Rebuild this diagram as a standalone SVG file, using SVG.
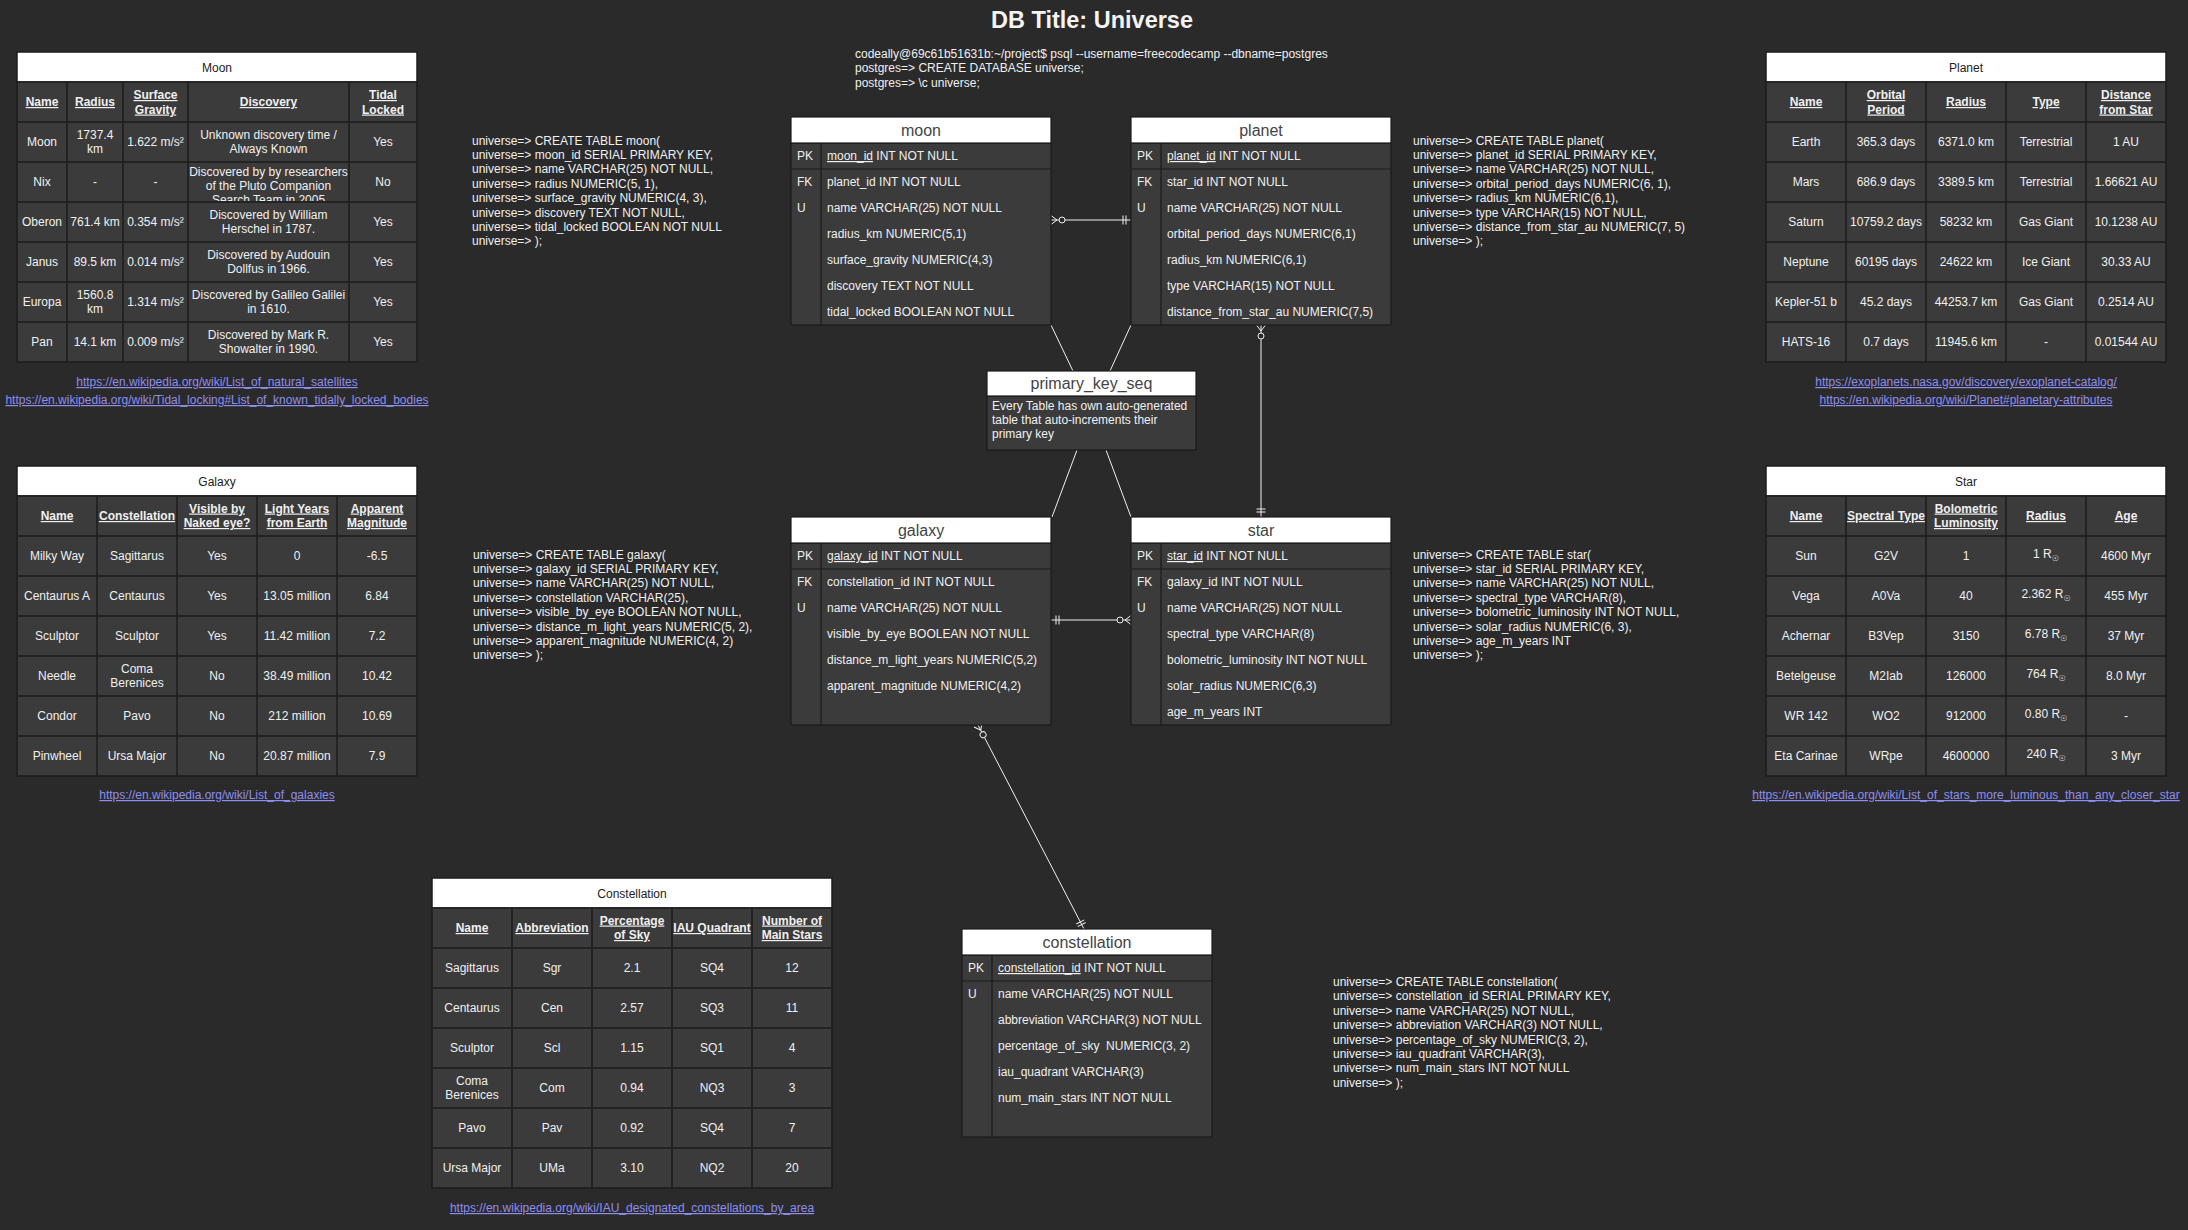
<svg xmlns="http://www.w3.org/2000/svg" width="2188" height="1230" viewBox="0 0 2188 1230">
  <defs>
    <style>
      text { font-family: "Liberation Sans", Arial, Helvetica, sans-serif; font-size: 12px; }
      .bg { fill: #2a2a2a; }
      .cellbg { fill: #3b3b3b; stroke: #1c1c1c; stroke-width: 1.5; }
      .ttlbg { fill: #ffffff; stroke: #1c1c1c; stroke-width: 1.5; }
      .grid { fill: none; stroke: #1c1c1c; stroke-width: 1.5; }
      .c { fill: #f0f0f0; text-anchor: middle; }
      .h { fill: #f0f0f0; text-anchor: middle; font-weight: bold; text-decoration: underline; }
      .tn { fill: #222222; text-anchor: middle; }
      .lnk { fill: #8e8ef0; text-anchor: middle; text-decoration: underline; }
      .sql { fill: #f0f0f0; }
      .title { fill: #f4f4f4; font-size: 23.5px; font-weight: bold; text-anchor: middle; }
      .ebody { fill: #3b3b3b; stroke: #1c1c1c; stroke-width: 1.2; }
      .ehead { fill: #ffffff; stroke: #1c1c1c; stroke-width: 1.2; }
      .eline { fill: none; stroke: #1c1c1c; stroke-width: 1.2; }
      .ename { fill: #444444; font-size: 16px; text-anchor: middle; }
      .f { fill: #f0f0f0; }
      .u { text-decoration: underline; }
      .edge { fill: none; stroke: #f0f0f0; stroke-width: 1; }
      .sun { font-family: "DejaVu Sans", sans-serif; font-size: 8px; }
    </style>
    <!-- mandatory one: two bars near the entity edge -->
    <marker id="one" viewBox="-12 -7 14 14" refX="0" refY="0" markerWidth="14" markerHeight="14" markerUnits="userSpaceOnUse" orient="auto-start-reverse">
      <path d="M-8,-4.5V4.5M-5,-4.5V4.5" fill="none" stroke="#f0f0f0" stroke-width="1"/>
    </marker>
    <!-- zero or many: crow's foot plus open circle -->
    <marker id="zm" viewBox="-16 -7 18 14" refX="0" refY="0" markerWidth="18" markerHeight="14" markerUnits="userSpaceOnUse" orient="auto-start-reverse">
      <path d="M0,-4.5L-6,0L0,4.5" fill="none" stroke="#f0f0f0" stroke-width="1"/>
      <circle cx="-11" cy="0" r="3" fill="#2a2a2a" stroke="#f0f0f0" stroke-width="1"/>
    </marker>
    <clipPath id="nixclip"><rect x="188" y="162" width="161" height="39"/></clipPath>
  </defs>

  <rect class="bg" x="0" y="0" width="2188" height="1230"/>

  <text class="title" x="1092" y="27.5">DB Title: Universe</text>

  <g id="psql-session" class="sql">
    <text x="855" y="58">codeally@69c61b51631b:~/project$ psql --username=freecodecamp --dbname=postgres</text>
    <text x="855" y="72.4">postgres=&gt; CREATE DATABASE universe;</text>
    <text x="855" y="86.8">postgres=&gt; \c universe;</text>
  </g>

  <!-- ===== connectors ===== -->
  <g id="connectors">
    <path class="edge" d="M1051,220H1131" marker-start="url(#zm)" marker-end="url(#one)"/>
    <path class="edge" d="M1051,620H1131" marker-start="url(#one)" marker-end="url(#zm)"/>
    <path class="edge" d="M1261,325V517" marker-start="url(#zm)" marker-end="url(#one)"/>
    <path class="edge" d="M978,725L1084,929" marker-start="url(#zm)" marker-end="url(#one)"/>
    <path class="edge" d="M1051,325L1073,371"/>
    <path class="edge" d="M1131,325L1110,371"/>
    <path class="edge" d="M1077,450L1052,517"/>
    <path class="edge" d="M1106,450L1131,517"/>
  </g>

  <!-- ===== entity: moon ===== -->
  <g id="entity-moon">
    <rect class="ebody" x="791" y="143" width="260" height="182"/>
    <rect class="ehead" x="791" y="117" width="260" height="26"/>
    <path class="eline" d="M791,169H1051M821,143V325"/>
    <text class="ename" x="921" y="135.5">moon</text>
    <g class="f">
      <text x="797" y="160">PK</text>
      <text x="827" y="160"><tspan class="u">moon_id</tspan> INT NOT NULL</text>
      <text x="797" y="186">FK</text>
      <text x="827" y="186">planet_id INT NOT NULL</text>
      <text x="797" y="212">U</text>
      <text x="827" y="212">name VARCHAR(25) NOT NULL</text>
      <text x="827" y="238">radius_km NUMERIC(5,1)</text>
      <text x="827" y="264">surface_gravity NUMERIC(4,3)</text>
      <text x="827" y="290">discovery TEXT NOT NULL</text>
      <text x="827" y="316">tidal_locked BOOLEAN NOT NULL</text>
    </g>
  </g>

  <!-- ===== entity: planet ===== -->
  <g id="entity-planet">
    <rect class="ebody" x="1131" y="143" width="260" height="182"/>
    <rect class="ehead" x="1131" y="117" width="260" height="26"/>
    <path class="eline" d="M1131,169H1391M1161,143V325"/>
    <text class="ename" x="1261" y="135.5">planet</text>
    <g class="f">
      <text x="1137" y="160">PK</text>
      <text x="1167" y="160"><tspan class="u">planet_id</tspan> INT NOT NULL</text>
      <text x="1137" y="186">FK</text>
      <text x="1167" y="186">star_id INT NOT NULL</text>
      <text x="1137" y="212">U</text>
      <text x="1167" y="212">name VARCHAR(25) NOT NULL</text>
      <text x="1167" y="238">orbital_period_days NUMERIC(6,1)</text>
      <text x="1167" y="264">radius_km NUMERIC(6,1)</text>
      <text x="1167" y="290">type VARCHAR(15) NOT NULL</text>
      <text x="1167" y="316">distance_from_star_au NUMERIC(7,5)</text>
    </g>
  </g>

  <!-- ===== entity: galaxy ===== -->
  <g id="entity-galaxy">
    <rect class="ebody" x="791" y="543" width="260" height="182"/>
    <rect class="ehead" x="791" y="517" width="260" height="26"/>
    <path class="eline" d="M791,569H1051M821,543V725"/>
    <text class="ename" x="921" y="535.5">galaxy</text>
    <g class="f">
      <text x="797" y="560">PK</text>
      <text x="827" y="560"><tspan class="u">galaxy_id</tspan> INT NOT NULL</text>
      <text x="797" y="586">FK</text>
      <text x="827" y="586">constellation_id INT NOT NULL</text>
      <text x="797" y="612">U</text>
      <text x="827" y="612">name VARCHAR(25) NOT NULL</text>
      <text x="827" y="638">visible_by_eye BOOLEAN NOT NULL</text>
      <text x="827" y="664">distance_m_light_years NUMERIC(5,2)</text>
      <text x="827" y="690">apparent_magnitude NUMERIC(4,2)</text>
    </g>
  </g>

  <!-- ===== entity: star ===== -->
  <g id="entity-star">
    <rect class="ebody" x="1131" y="543" width="260" height="182"/>
    <rect class="ehead" x="1131" y="517" width="260" height="26"/>
    <path class="eline" d="M1131,569H1391M1161,543V725"/>
    <text class="ename" x="1261" y="535.5">star</text>
    <g class="f">
      <text x="1137" y="560">PK</text>
      <text x="1167" y="560"><tspan class="u">star_id</tspan> INT NOT NULL</text>
      <text x="1137" y="586">FK</text>
      <text x="1167" y="586">galaxy_id INT NOT NULL</text>
      <text x="1137" y="612">U</text>
      <text x="1167" y="612">name VARCHAR(25) NOT NULL</text>
      <text x="1167" y="638">spectral_type VARCHAR(8)</text>
      <text x="1167" y="664">bolometric_luminosity INT NOT NULL</text>
      <text x="1167" y="690">solar_radius NUMERIC(6,3)</text>
      <text x="1167" y="716">age_m_years INT</text>
    </g>
  </g>

  <!-- ===== entity: constellation ===== -->
  <g id="entity-constellation">
    <rect class="ebody" x="962" y="955" width="250" height="182"/>
    <rect class="ehead" x="962" y="929" width="250" height="26"/>
    <path class="eline" d="M962,981H1212M992,955V1137"/>
    <text class="ename" x="1087" y="947.5">constellation</text>
    <g class="f">
      <text x="968" y="972">PK</text>
      <text x="998" y="972"><tspan class="u">constellation_id</tspan> INT NOT NULL</text>
      <text x="968" y="998">U</text>
      <text x="998" y="998">name VARCHAR(25) NOT NULL</text>
      <text x="998" y="1024">abbreviation VARCHAR(3) NOT NULL</text>
      <text x="998" y="1050">percentage_of_sky&#160; NUMERIC(3, 2)</text>
      <text x="998" y="1076">iau_quadrant VARCHAR(3)</text>
      <text x="998" y="1102">num_main_stars INT NOT NULL</text>
    </g>
  </g>

  <!-- ===== note: primary_key_seq ===== -->
  <g id="entity-primary-key-seq">
    <rect class="ebody" x="987" y="396" width="209" height="54"/>
    <rect class="ehead" x="987" y="371" width="209" height="25"/>
    <text class="ename" x="1091.5" y="389">primary_key_seq</text>
    <g class="f">
      <text x="992" y="410">Every Table has own auto-generated</text>
      <text x="992" y="424">table that auto-increments their</text>
      <text x="992" y="438">primary key</text>
    </g>
  </g>

  <!-- ===== SQL listings ===== -->
  <g id="sql-moon" class="sql">
    <text x="472" y="144.5">universe=&gt; CREATE TABLE moon(</text>
    <text x="472" y="158.9">universe=&gt; moon_id SERIAL PRIMARY KEY,</text>
    <text x="472" y="173.3">universe=&gt; name VARCHAR(25) NOT NULL,</text>
    <text x="472" y="187.7">universe=&gt; radius NUMERIC(5, 1),</text>
    <text x="472" y="202.1">universe=&gt; surface_gravity NUMERIC(4, 3),</text>
    <text x="472" y="216.5">universe=&gt; discovery TEXT NOT NULL,</text>
    <text x="472" y="230.9">universe=&gt; tidal_locked BOOLEAN NOT NULL</text>
    <text x="472" y="245.3">universe=&gt; );</text>
  </g>
  <g id="sql-planet" class="sql">
    <text x="1413" y="144.5">universe=&gt; CREATE TABLE planet(</text>
    <text x="1413" y="158.9">universe=&gt; planet_id SERIAL PRIMARY KEY,</text>
    <text x="1413" y="173.3">universe=&gt; name VARCHAR(25) NOT NULL,</text>
    <text x="1413" y="187.7">universe=&gt; orbital_period_days NUMERIC(6, 1),</text>
    <text x="1413" y="202.1">universe=&gt; radius_km NUMERIC(6,1),</text>
    <text x="1413" y="216.5">universe=&gt; type VARCHAR(15) NOT NULL,</text>
    <text x="1413" y="230.9">universe=&gt; distance_from_star_au NUMERIC(7, 5)</text>
    <text x="1413" y="245.3">universe=&gt; );</text>
  </g>
  <g id="sql-galaxy" class="sql">
    <text x="473" y="558.5">universe=&gt; CREATE TABLE galaxy(</text>
    <text x="473" y="572.9">universe=&gt; galaxy_id SERIAL PRIMARY KEY,</text>
    <text x="473" y="587.3">universe=&gt; name VARCHAR(25) NOT NULL,</text>
    <text x="473" y="601.7">universe=&gt; constellation VARCHAR(25),</text>
    <text x="473" y="616.1">universe=&gt; visible_by_eye BOOLEAN NOT NULL,</text>
    <text x="473" y="630.5">universe=&gt; distance_m_light_years NUMERIC(5, 2),</text>
    <text x="473" y="644.9">universe=&gt; apparent_magnitude NUMERIC(4, 2)</text>
    <text x="473" y="659.3">universe=&gt; );</text>
  </g>
  <g id="sql-star" class="sql">
    <text x="1413" y="558.5">universe=&gt; CREATE TABLE star(</text>
    <text x="1413" y="572.9">universe=&gt; star_id SERIAL PRIMARY KEY,</text>
    <text x="1413" y="587.3">universe=&gt; name VARCHAR(25) NOT NULL,</text>
    <text x="1413" y="601.7">universe=&gt; spectral_type VARCHAR(8),</text>
    <text x="1413" y="616.1">universe=&gt; bolometric_luminosity INT NOT NULL,</text>
    <text x="1413" y="630.5">universe=&gt; solar_radius NUMERIC(6, 3),</text>
    <text x="1413" y="644.9">universe=&gt; age_m_years INT</text>
    <text x="1413" y="659.3">universe=&gt; );</text>
  </g>
  <g id="sql-constellation" class="sql">
    <text x="1333" y="986">universe=&gt; CREATE TABLE constellation(</text>
    <text x="1333" y="1000.4">universe=&gt; constellation_id SERIAL PRIMARY KEY,</text>
    <text x="1333" y="1014.8">universe=&gt; name VARCHAR(25) NOT NULL,</text>
    <text x="1333" y="1029.2">universe=&gt; abbreviation VARCHAR(3) NOT NULL,</text>
    <text x="1333" y="1043.6">universe=&gt; percentage_of_sky NUMERIC(3, 2),</text>
    <text x="1333" y="1058">universe=&gt; iau_quadrant VARCHAR(3),</text>
    <text x="1333" y="1072.4">universe=&gt; num_main_stars INT NOT NULL</text>
    <text x="1333" y="1086.8">universe=&gt; );</text>
  </g>

  <!-- ===== data table: Moon ===== -->
  <g id="table-moon">
    <rect class="ttlbg" x="17" y="52" width="400" height="30"/>
    <rect class="cellbg" x="17" y="82" width="400" height="280"/>
    <path class="grid" d="M17,122H417M17,162H417M17,202H417M17,242H417M17,282H417M17,322H417M67,82V362M123,82V362M188,82V362M349,82V362"/>
    <text class="tn" x="217" y="71.5">Moon</text>
    <text class="h" x="42" y="106">Name</text>
    <text class="h" x="95" y="106">Radius</text>
    <text class="h" x="155.5" y="99">Surface</text>
    <text class="h" x="155.5" y="113.5">Gravity</text>
    <text class="h" x="268.5" y="106">Discovery</text>
    <text class="h" x="383" y="99">Tidal</text>
    <text class="h" x="383" y="113.5">Locked</text>

    <text class="c" x="42" y="146">Moon</text>
    <text class="c" x="95" y="139">1737.4</text>
    <text class="c" x="95" y="153">km</text>
    <text class="c" x="155.5" y="146">1.622 m/s²</text>
    <text class="c" x="268.5" y="139">Unknown discovery time /</text>
    <text class="c" x="268.5" y="153">Always Known</text>
    <text class="c" x="383" y="146">Yes</text>

    <text class="c" x="42" y="186">Nix</text>
    <text class="c" x="95" y="186">-</text>
    <text class="c" x="155.5" y="186">-</text>
    <g clip-path="url(#nixclip)">
      <text class="c" x="268.5" y="176">Discovered by by researchers</text>
      <text class="c" x="268.5" y="190">of the Pluto Companion</text>
      <text class="c" x="268.5" y="204">Search Team in 2005</text>
    </g>
    <text class="c" x="383" y="186">No</text>

    <text class="c" x="42" y="226">Oberon</text>
    <text class="c" x="95" y="226">761.4 km</text>
    <text class="c" x="155.5" y="226">0.354 m/s²</text>
    <text class="c" x="268.5" y="219">Discovered by William</text>
    <text class="c" x="268.5" y="233">Herschel in 1787.</text>
    <text class="c" x="383" y="226">Yes</text>

    <text class="c" x="42" y="266">Janus</text>
    <text class="c" x="95" y="266">89.5 km</text>
    <text class="c" x="155.5" y="266">0.014 m/s²</text>
    <text class="c" x="268.5" y="259">Discovered by Audouin</text>
    <text class="c" x="268.5" y="273">Dollfus in 1966.</text>
    <text class="c" x="383" y="266">Yes</text>

    <text class="c" x="42" y="306">Europa</text>
    <text class="c" x="95" y="299">1560.8</text>
    <text class="c" x="95" y="313">km</text>
    <text class="c" x="155.5" y="306">1.314 m/s²</text>
    <text class="c" x="268.5" y="299">Discovered by Galileo Galilei</text>
    <text class="c" x="268.5" y="313">in 1610.</text>
    <text class="c" x="383" y="306">Yes</text>

    <text class="c" x="42" y="346">Pan</text>
    <text class="c" x="95" y="346">14.1 km</text>
    <text class="c" x="155.5" y="346">0.009 m/s²</text>
    <text class="c" x="268.5" y="339">Discovered by Mark R.</text>
    <text class="c" x="268.5" y="353">Showalter in 1990.</text>
    <text class="c" x="383" y="346">Yes</text>

    <text class="lnk" x="217" y="386">https://en.wikipedia.org/wiki/List_of_natural_satellites</text>
    <text class="lnk" x="217" y="404">https://en.wikipedia.org/wiki/Tidal_locking#List_of_known_tidally_locked_bodies</text>
  </g>

  <!-- ===== data table: Planet ===== -->
  <g id="table-planet">
    <rect class="ttlbg" x="1766" y="52" width="400" height="30"/>
    <rect class="cellbg" x="1766" y="82" width="400" height="280"/>
    <path class="grid" d="M1766,122H2166M1766,162H2166M1766,202H2166M1766,242H2166M1766,282H2166M1766,322H2166M1846,82V362M1926,82V362M2006,82V362M2086,82V362"/>
    <text class="tn" x="1966" y="71.5">Planet</text>
    <text class="h" x="1806" y="106">Name</text>
    <text class="h" x="1886" y="99">Orbital</text>
    <text class="h" x="1886" y="113.5">Period</text>
    <text class="h" x="1966" y="106">Radius</text>
    <text class="h" x="2046" y="106">Type</text>
    <text class="h" x="2126" y="99">Distance</text>
    <text class="h" x="2126" y="113.5">from Star</text>

    <text class="c" x="1806" y="146">Earth</text>
    <text class="c" x="1886" y="146">365.3 days</text>
    <text class="c" x="1966" y="146">6371.0 km</text>
    <text class="c" x="2046" y="146">Terrestrial</text>
    <text class="c" x="2126" y="146">1 AU</text>

    <text class="c" x="1806" y="186">Mars</text>
    <text class="c" x="1886" y="186">686.9 days</text>
    <text class="c" x="1966" y="186">3389.5 km</text>
    <text class="c" x="2046" y="186">Terrestrial</text>
    <text class="c" x="2126" y="186">1.66621 AU</text>

    <text class="c" x="1806" y="226">Saturn</text>
    <text class="c" x="1886" y="226">10759.2 days</text>
    <text class="c" x="1966" y="226">58232 km</text>
    <text class="c" x="2046" y="226">Gas Giant</text>
    <text class="c" x="2126" y="226">10.1238 AU</text>

    <text class="c" x="1806" y="266">Neptune</text>
    <text class="c" x="1886" y="266">60195 days</text>
    <text class="c" x="1966" y="266">24622 km</text>
    <text class="c" x="2046" y="266">Ice Giant</text>
    <text class="c" x="2126" y="266">30.33 AU</text>

    <text class="c" x="1806" y="306">Kepler-51 b</text>
    <text class="c" x="1886" y="306">45.2 days</text>
    <text class="c" x="1966" y="306">44253.7 km</text>
    <text class="c" x="2046" y="306">Gas Giant</text>
    <text class="c" x="2126" y="306">0.2514 AU</text>

    <text class="c" x="1806" y="346">HATS-16</text>
    <text class="c" x="1886" y="346">0.7 days</text>
    <text class="c" x="1966" y="346">11945.6 km</text>
    <text class="c" x="2046" y="346">-</text>
    <text class="c" x="2126" y="346">0.01544 AU</text>

    <text class="lnk" x="1966" y="386">https://exoplanets.nasa.gov/discovery/exoplanet-catalog/</text>
    <text class="lnk" x="1966" y="404">https://en.wikipedia.org/wiki/Planet#planetary-attributes</text>
  </g>

  <!-- ===== data table: Galaxy ===== -->
  <g id="table-galaxy">
    <rect class="ttlbg" x="17" y="466" width="400" height="30"/>
    <rect class="cellbg" x="17" y="496" width="400" height="280"/>
    <path class="grid" d="M17,536H417M17,576H417M17,616H417M17,656H417M17,696H417M17,736H417M97,496V776M177,496V776M257,496V776M337,496V776"/>
    <text class="tn" x="217" y="485.5">Galaxy</text>
    <text class="h" x="57" y="520">Name</text>
    <text class="h" x="137" y="520">Constellation</text>
    <text class="h" x="217" y="512.5">Visible by</text>
    <text class="h" x="217" y="527">Naked eye?</text>
    <text class="h" x="297" y="512.5">Light Years</text>
    <text class="h" x="297" y="527">from Earth</text>
    <text class="h" x="377" y="512.5">Apparent</text>
    <text class="h" x="377" y="527">Magnitude</text>

    <text class="c" x="57" y="560">Milky Way</text>
    <text class="c" x="137" y="560">Sagittarus</text>
    <text class="c" x="217" y="560">Yes</text>
    <text class="c" x="297" y="560">0</text>
    <text class="c" x="377" y="560">-6.5</text>

    <text class="c" x="57" y="600">Centaurus A</text>
    <text class="c" x="137" y="600">Centaurus</text>
    <text class="c" x="217" y="600">Yes</text>
    <text class="c" x="297" y="600">13.05 million</text>
    <text class="c" x="377" y="600">6.84</text>

    <text class="c" x="57" y="640">Sculptor</text>
    <text class="c" x="137" y="640">Sculptor</text>
    <text class="c" x="217" y="640">Yes</text>
    <text class="c" x="297" y="640">11.42 million</text>
    <text class="c" x="377" y="640">7.2</text>

    <text class="c" x="57" y="680">Needle</text>
    <text class="c" x="137" y="673">Coma</text>
    <text class="c" x="137" y="687">Berenices</text>
    <text class="c" x="217" y="680">No</text>
    <text class="c" x="297" y="680">38.49 million</text>
    <text class="c" x="377" y="680">10.42</text>

    <text class="c" x="57" y="720">Condor</text>
    <text class="c" x="137" y="720">Pavo</text>
    <text class="c" x="217" y="720">No</text>
    <text class="c" x="297" y="720">212 million</text>
    <text class="c" x="377" y="720">10.69</text>

    <text class="c" x="57" y="760">Pinwheel</text>
    <text class="c" x="137" y="760">Ursa Major</text>
    <text class="c" x="217" y="760">No</text>
    <text class="c" x="297" y="760">20.87 million</text>
    <text class="c" x="377" y="760">7.9</text>

    <text class="lnk" x="217" y="799">https://en.wikipedia.org/wiki/List_of_galaxies</text>
  </g>

  <!-- ===== data table: Star ===== -->
  <g id="table-star">
    <rect class="ttlbg" x="1766" y="466" width="400" height="30"/>
    <rect class="cellbg" x="1766" y="496" width="400" height="280"/>
    <path class="grid" d="M1766,536H2166M1766,576H2166M1766,616H2166M1766,656H2166M1766,696H2166M1766,736H2166M1846,496V776M1926,496V776M2006,496V776M2086,496V776"/>
    <text class="tn" x="1966" y="485.5">Star</text>
    <text class="h" x="1806" y="520">Name</text>
    <text class="h" x="1886" y="520">Spectral Type</text>
    <text class="h" x="1966" y="512.5">Bolometric</text>
    <text class="h" x="1966" y="527">Luminosity</text>
    <text class="h" x="2046" y="520">Radius</text>
    <text class="h" x="2126" y="520">Age</text>

    <text class="c" x="1806" y="560">Sun</text>
    <text class="c" x="1886" y="560">G2V</text>
    <text class="c" x="1966" y="560">1</text>
    <text class="c" x="2046" y="558">1 R<tspan class="sun" dy="3">☉</tspan></text>
    <text class="c" x="2126" y="560">4600 Myr</text>

    <text class="c" x="1806" y="600">Vega</text>
    <text class="c" x="1886" y="600">A0Va</text>
    <text class="c" x="1966" y="600">40</text>
    <text class="c" x="2046" y="598">2.362 R<tspan class="sun" dy="3">☉</tspan></text>
    <text class="c" x="2126" y="600">455 Myr</text>

    <text class="c" x="1806" y="640">Achernar</text>
    <text class="c" x="1886" y="640">B3Vep</text>
    <text class="c" x="1966" y="640">3150</text>
    <text class="c" x="2046" y="638">6.78 R<tspan class="sun" dy="3">☉</tspan></text>
    <text class="c" x="2126" y="640">37 Myr</text>

    <text class="c" x="1806" y="680">Betelgeuse</text>
    <text class="c" x="1886" y="680">M2Iab</text>
    <text class="c" x="1966" y="680">126000</text>
    <text class="c" x="2046" y="678">764 R<tspan class="sun" dy="3">☉</tspan></text>
    <text class="c" x="2126" y="680">8.0 Myr</text>

    <text class="c" x="1806" y="720">WR 142</text>
    <text class="c" x="1886" y="720">WO2</text>
    <text class="c" x="1966" y="720">912000</text>
    <text class="c" x="2046" y="718">0.80 R<tspan class="sun" dy="3">☉</tspan></text>
    <text class="c" x="2126" y="720">-</text>

    <text class="c" x="1806" y="760">Eta Carinae</text>
    <text class="c" x="1886" y="760">WRpe</text>
    <text class="c" x="1966" y="760">4600000</text>
    <text class="c" x="2046" y="758">240 R<tspan class="sun" dy="3">☉</tspan></text>
    <text class="c" x="2126" y="760">3 Myr</text>

    <text class="lnk" x="1966" y="799">https://en.wikipedia.org/wiki/List_of_stars_more_luminous_than_any_closer_star</text>
  </g>

  <!-- ===== data table: Constellation ===== -->
  <g id="table-constellation">
    <rect class="ttlbg" x="432" y="878" width="400" height="30"/>
    <rect class="cellbg" x="432" y="908" width="400" height="280"/>
    <path class="grid" d="M432,948H832M432,988H832M432,1028H832M432,1068H832M432,1108H832M432,1148H832M512,908V1188M592,908V1188M672,908V1188M752,908V1188"/>
    <text class="tn" x="632" y="897.5">Constellation</text>
    <text class="h" x="472" y="932">Name</text>
    <text class="h" x="552" y="932">Abbreviation</text>
    <text class="h" x="632" y="924.5">Percentage</text>
    <text class="h" x="632" y="939">of Sky</text>
    <text class="h" x="712" y="932">IAU Quadrant</text>
    <text class="h" x="792" y="924.5">Number of</text>
    <text class="h" x="792" y="939">Main Stars</text>

    <text class="c" x="472" y="972">Sagittarus</text>
    <text class="c" x="552" y="972">Sgr</text>
    <text class="c" x="632" y="972">2.1</text>
    <text class="c" x="712" y="972">SQ4</text>
    <text class="c" x="792" y="972">12</text>

    <text class="c" x="472" y="1012">Centaurus</text>
    <text class="c" x="552" y="1012">Cen</text>
    <text class="c" x="632" y="1012">2.57</text>
    <text class="c" x="712" y="1012">SQ3</text>
    <text class="c" x="792" y="1012">11</text>

    <text class="c" x="472" y="1052">Sculptor</text>
    <text class="c" x="552" y="1052">Scl</text>
    <text class="c" x="632" y="1052">1.15</text>
    <text class="c" x="712" y="1052">SQ1</text>
    <text class="c" x="792" y="1052">4</text>

    <text class="c" x="472" y="1085">Coma</text>
    <text class="c" x="472" y="1099">Berenices</text>
    <text class="c" x="552" y="1092">Com</text>
    <text class="c" x="632" y="1092">0.94</text>
    <text class="c" x="712" y="1092">NQ3</text>
    <text class="c" x="792" y="1092">3</text>

    <text class="c" x="472" y="1132">Pavo</text>
    <text class="c" x="552" y="1132">Pav</text>
    <text class="c" x="632" y="1132">0.92</text>
    <text class="c" x="712" y="1132">SQ4</text>
    <text class="c" x="792" y="1132">7</text>

    <text class="c" x="472" y="1172">Ursa Major</text>
    <text class="c" x="552" y="1172">UMa</text>
    <text class="c" x="632" y="1172">3.10</text>
    <text class="c" x="712" y="1172">NQ2</text>
    <text class="c" x="792" y="1172">20</text>

    <text class="lnk" x="632" y="1212">https://en.wikipedia.org/wiki/IAU_designated_constellations_by_area</text>
  </g>
</svg>
